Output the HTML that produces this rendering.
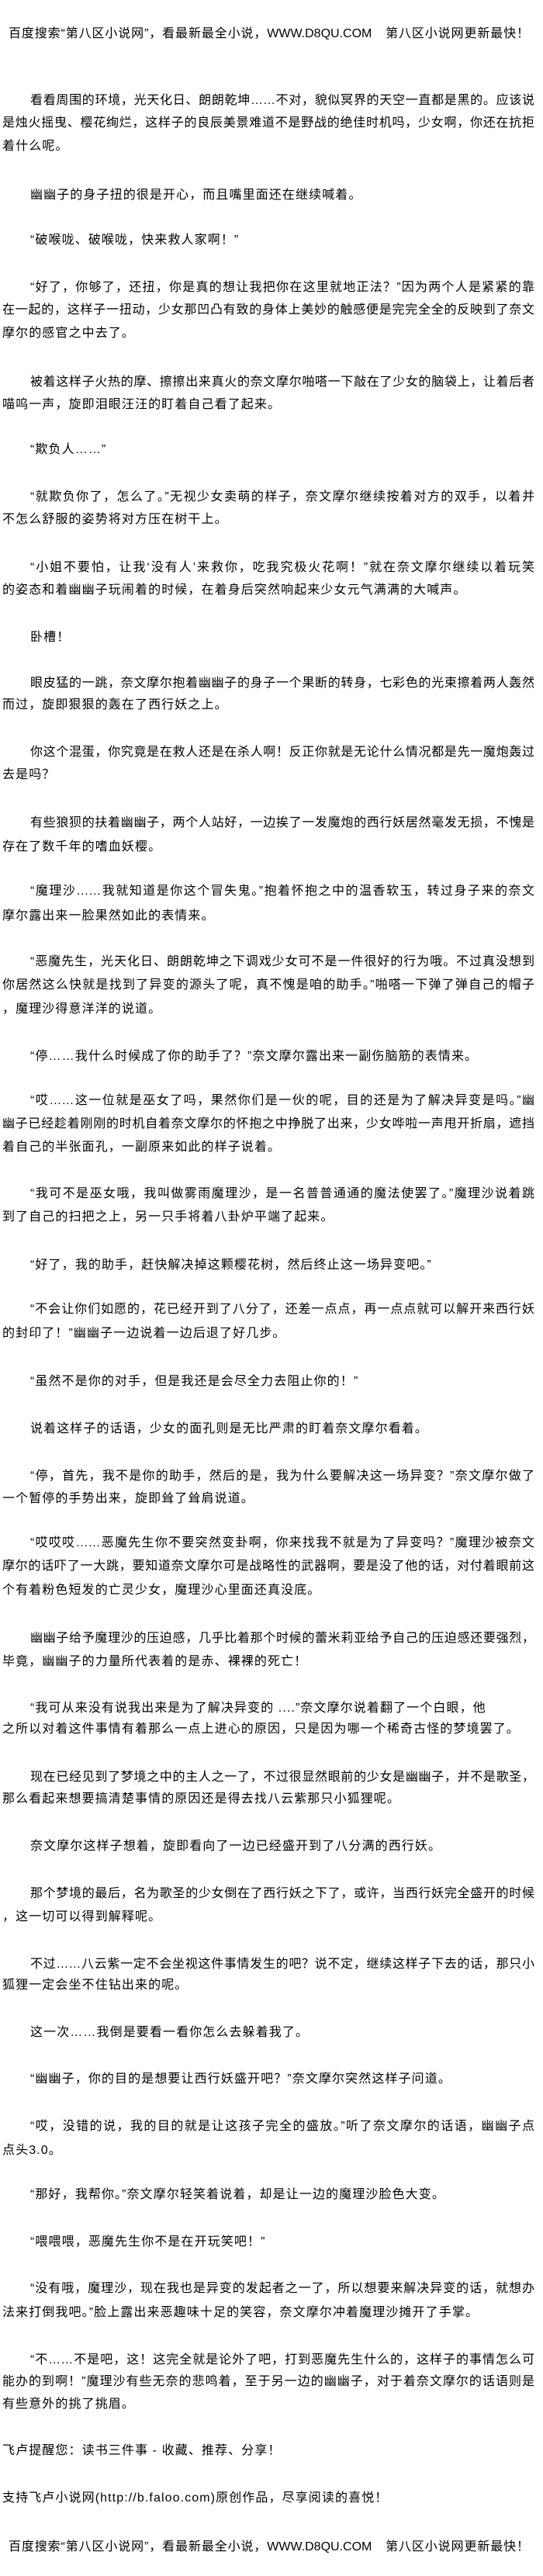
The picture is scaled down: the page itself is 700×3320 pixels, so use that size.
<!DOCTYPE html>
<html><head><meta charset="utf-8">
<style>
html,body{margin:0;padding:0;background:#fff;}
body{width:700px;height:3320px;position:relative;overflow:hidden;font-family:"Liberation Sans","WenQuanYi Zen Hei","Noto Sans CJK SC",sans-serif;color:#000;}
.l{position:absolute;left:3px;width:686px;height:20px;line-height:20px;font-size:16px;white-space:nowrap;letter-spacing:1.1px;box-sizing:border-box;}
.f{text-align:justify;text-align-last:justify;letter-spacing:0;}
.i{padding-left:36px;}
.h{left:11px;width:671px;text-align:justify;text-align-last:justify;letter-spacing:0;}
</style></head><body>
<div class="l h" style="top:34px">百度搜索“第八区小说网”，看最新最全小说，WWW.D8QU.COM　第八区小说网更新最快！</div>

<div class="l f i" style="top:120px">看看周围的环境，光天化日、朗朗乾坤……不对，貌似冥界的天空一直都是黑的。应该说</div>
<div class="l f" style="top:149px">是烛火摇曳、樱花绚烂，这样子的良辰美景难道不是野战的绝佳时机吗，少女啊，你还在抗拒</div>
<div class="l" style="top:179px">着什么呢。</div>
<div class="l i" style="top:242px">幽幽子的身子扭的很是开心，而且嘴里面还在继续喊着。</div>
<div class="l i" style="top:300px">“破喉咙、破喉咙，快来救人家啊！”</div>
<div class="l f i" style="top:361px">“好了，你够了，还扭，你是真的想让我把你在这里就地正法？”因为两个人是紧紧的靠</div>
<div class="l f" style="top:390px">在一起的，这样子一扭动，少女那凹凸有致的身体上美妙的触感便是完完全全的反映到了奈文</div>
<div class="l" style="top:420px">摩尔的感官之中去了。</div>
<div class="l f i" style="top:483px">被着这样子火热的摩、擦擦出来真火的奈文摩尔啪嗒一下敲在了少女的脑袋上，让着后者</div>
<div class="l" style="top:512px">喵呜一声，旋即泪眼汪汪的盯着自己看了起来。</div>
<div class="l i" style="top:570px">“欺负人……”</div>
<div class="l f i" style="top:631px">“就欺负你了，怎么了。”无视少女卖萌的样子，奈文摩尔继续按着对方的双手，以着并</div>
<div class="l" style="top:660px">不怎么舒服的姿势将对方压在树干上。</div>
<div class="l f i" style="top:722px">“小姐不要怕，让我‘没有人’来救你，吃我究极火花啊！”就在奈文摩尔继续以着玩笑</div>
<div class="l" style="top:751px">的姿态和着幽幽子玩闹着的时候，在着身后突然响起来少女元气满满的大喊声。</div>
<div class="l i" style="top:812px">卧槽！</div>
<div class="l f i" style="top:871px">眼皮猛的一跳，奈文摩尔抱着幽幽子的身子一个果断的转身，七彩色的光束擦着两人轰然</div>
<div class="l" style="top:899px">而过，旋即狠狠的轰在了西行妖之上。</div>
<div class="l f i" style="top:960px">你这个混蛋，你究竟是在救人还是在杀人啊！反正你就是无论什么情况都是先一魔炮轰过</div>
<div class="l" style="top:989px">去是吗？</div>
<div class="l f i" style="top:1051px">有些狼狈的扶着幽幽子，两个人站好，一边挨了一发魔炮的西行妖居然毫发无损，不愧是</div>
<div class="l" style="top:1082px">存在了数千年的嗜血妖樱。</div>
<div class="l f i" style="top:1139px">“魔理沙……我就知道是你这个冒失鬼。”抱着怀抱之中的温香软玉，转过身子来的奈文</div>
<div class="l" style="top:1171px">摩尔露出来一脸果然如此的表情来。</div>
<div class="l f i" style="top:1230px">“恶魔先生，光天化日、朗朗乾坤之下调戏少女可不是一件很好的行为哦。不过真没想到</div>
<div class="l f" style="top:1260px">你居然这么快就是找到了异变的源头了呢，真不愧是咱的助手。”啪嗒一下弹了弹自己的帽子</div>
<div class="l" style="top:1291px">，魔理沙得意洋洋的说道。</div>
<div class="l i" style="top:1352px">“停……我什么时候成了你的助手了？”奈文摩尔露出来一副伤脑筋的表情来。</div>
<div class="l f i" style="top:1409px">“哎……这一位就是巫女了吗，果然你们是一伙的呢，目的还是为了解决异变是吗。”幽</div>
<div class="l f" style="top:1439px">幽子已经趁着刚刚的时机自着奈文摩尔的怀抱之中挣脱了出来，少女哗啦一声甩开折扇，遮挡</div>
<div class="l" style="top:1469px">着自己的半张面孔，一副原来如此的样子说着。</div>
<div class="l f i" style="top:1529px">“我可不是巫女哦，我叫做雾雨魔理沙，是一名普普通通的魔法使罢了。”魔理沙说着跳</div>
<div class="l" style="top:1559px">到了自己的扫把之上，另一只手将着八卦炉平端了起来。</div>
<div class="l i" style="top:1621px">“好了，我的助手，赶快解决掉这颗樱花树，然后终止这一场异变吧。”</div>
<div class="l f i" style="top:1678px">“不会让你们如愿的，花已经开到了八分了，还差一点点，再一点点就可以解开来西行妖</div>
<div class="l" style="top:1709px">的封印了！”幽幽子一边说着一边后退了好几步。</div>
<div class="l i" style="top:1771px">“虽然不是你的对手，但是我还是会尽全力去阻止你的！”</div>
<div class="l i" style="top:1832px">说着这样子的话语，少女的面孔则是无比严肃的盯着奈文摩尔看着。</div>
<div class="l f i" style="top:1893px">“停，首先，我不是你的助手，然后的是，我为什么要解决这一场异变？”奈文摩尔做了</div>
<div class="l" style="top:1922px">一个暂停的手势出来，旋即耸了耸肩说道。</div>
<div class="l f i" style="top:1979px">“哎哎哎……恶魔先生你不要突然变卦啊，你来找我不就是为了异变吗？”魔理沙被奈文</div>
<div class="l f" style="top:2009px">摩尔的话吓了一大跳，要知道奈文摩尔可是战略性的武器啊，要是没了他的话，对付着眼前这</div>
<div class="l" style="top:2040px">个有着粉色短发的亡灵少女，魔理沙心里面还真没底。</div>
<div class="l f i" style="top:2102px">幽幽子给予魔理沙的压迫感，几乎比着那个时候的蕾米莉亚给予自己的压迫感还要强烈，</div>
<div class="l" style="top:2132px">毕竟，幽幽子的力量所代表着的是赤、裸裸的死亡！</div>
<div class="l i" style="top:2192px">“我可从来没有说我出来是为了解决异变的 ....”奈文摩尔说着翻了一个白眼，他</div>
<div class="l" style="top:2219px">之所以对着这件事情有着那么一点上进心的原因，只是因为哪一个稀奇古怪的梦境罢了。</div>
<div class="l f i" style="top:2281px">现在已经见到了梦境之中的主人之一了，不过很显然眼前的少女是幽幽子，并不是歌圣，</div>
<div class="l" style="top:2309px">那么看起来想要搞清楚事情的原因还是得去找八云紫那只小狐狸呢。</div>
<div class="l i" style="top:2370px">奈文摩尔这样子想着，旋即看向了一边已经盛开到了八分满的西行妖。</div>
<div class="l f i" style="top:2431px">那个梦境的最后，名为歌圣的少女倒在了西行妖之下了，或许，当西行妖完全盛开的时候</div>
<div class="l" style="top:2461px">，这一切可以得到解释呢。</div>
<div class="l f i" style="top:2522px">不过……八云紫一定不会坐视这件事情发生的吧？说不定，继续这样子下去的话，那只小</div>
<div class="l" style="top:2549px">狐狸一定会坐不住钻出来的呢。</div>
<div class="l i" style="top:2610px">这一次……我倒是要看一看你怎么去躲着我了。</div>
<div class="l i" style="top:2670px">“幽幽子，你的目的是想要让西行妖盛开吧？”奈文摩尔突然这样子问道。</div>
<div class="l f i" style="top:2731px">“哎，没错的说，我的目的就是让这孩子完全的盛放。”听了奈文摩尔的话语，幽幽子点</div>
<div class="l" style="top:2762px">点头3.0。</div>
<div class="l i" style="top:2819px">“那好，我帮你。”奈文摩尔轻笑着说着，却是让一边的魔理沙脸色大变。</div>
<div class="l i" style="top:2880px">“喂喂喂，恶魔先生你不是在开玩笑吧！”</div>
<div class="l f i" style="top:2940px">“没有哦，魔理沙，现在我也是异变的发起者之一了，所以想要来解决异变的话，就想办</div>
<div class="l" style="top:2971px">法来打倒我吧。”脸上露出来恶趣味十足的笑容，奈文摩尔冲着魔理沙摊开了手掌。</div>
<div class="l f i" style="top:3032px">“不……不是吧，这！这完全就是论外了吧，打到恶魔先生什么的，这样子的事情怎么可</div>
<div class="l f" style="top:3060px">能办的到啊！”魔理沙有些无奈的悲鸣着，至于另一边的幽幽子，对于着奈文摩尔的话语则是</div>
<div class="l" style="top:3089px">有些意外的挑了挑眉。</div>
<div class="l" style="top:3149px">飞卢提醒您：读书三件事 - 收藏、推荐、分享！</div>
<div class="l" style="top:3210px">支持飞卢小说网(http://b.faloo.com)原创作品，尽享阅读的喜悦！</div>

<div class="l h" style="top:3273px">百度搜索“第八区小说网”，看最新最全小说，WWW.D8QU.COM　第八区小说网更新最快！</div>
</body></html>
